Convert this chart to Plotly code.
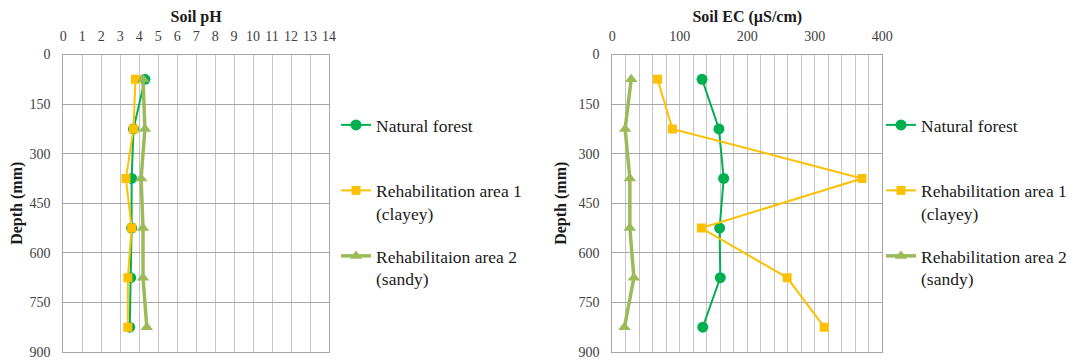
import plotly.graph_objects as go

depth = [75, 225, 375, 525, 675, 825]

ph_forest = [4.3, 3.7, 3.6, 3.6, 3.55, 3.5]
ph_rehab1 = [3.8, 3.7, 3.3, 3.6, 3.4, 3.4]
ph_rehab2 = [4.2, 4.3, 4.1, 4.2, 4.2, 4.4]

ec_forest = [133, 158, 165, 159, 160, 134]
ec_rehab1 = [67, 89, 370, 132, 259, 314]
ec_rehab2 = [28, 19, 26, 26, 32, 18]

names_left = ["Natural forest<br> ", "Rehabilitation area 1<br>(clayey)", "Rehabilitaion area 2<br>(sandy)"]
names_right = ["Natural forest<br> ", "Rehabilitation area 1<br>(clayey)", "Rehabilitation area 2<br>(sandy)"]

GREEN = "#00B050"
YELLOW = "#FFC000"
OLIVE = "#9BBB59"
FONT = "Liberation Serif, Times New Roman, serif"
HGRID = "#A6A6A6"
VGRID = "#C4C4C4"
OFF = 8  # page body margin in the browser

styles = [
    dict(color=GREEN, width=2, symbol="circle", size=11),
    dict(color=YELLOW, width=2, symbol="square", size=9),
    dict(color=OLIVE, width=3.5, symbol="triangle-up", size=11),
]

fig = go.Figure()

def add(xvals, names, xa, ya, legend):
    for i, (vals, nm) in enumerate(zip(xvals, names)):
        s = styles[i]
        fig.add_trace(go.Scatter(
            x=vals, y=depth, name=nm, mode="lines+markers",
            line=dict(color=s["color"], width=s["width"]),
            marker=dict(color=s["color"], symbol=s["symbol"], size=s["size"]),
            xaxis=xa, yaxis=ya, legend=legend, legendgroup=legend + str(i),
        ))

add([ph_forest, ph_rehab1, ph_rehab2], names_left, "x", "y", "legend")
add([ec_forest, ec_rehab1, ec_rehab2], names_right, "x2", "y2", "legend2")

W, H = 1077 - OFF, 360 - OFF
def px_x(v):
    return (v - OFF) / W
def px_y(v):
    return 1 - (v - OFF) / H

ytop = px_y(54.5)
ybot = px_y(352)

common_x = dict(side="top", showline=True, linecolor=HGRID, linewidth=1, mirror=True,
                showgrid=True, gridcolor=VGRID, gridwidth=1, zeroline=False,
                ticks="", ticklabelstandoff=7,
                tickfont=dict(family=FONT, size=14, color="#404040"),
                title_font=dict(family=FONT, size=16, color="#1a1a1a"), automargin=False)
common_y = dict(autorange=False, range=[900, 0], tick0=0, dtick=150, showline=True,
                linecolor=HGRID, linewidth=1, mirror=True, showgrid=True, gridcolor=HGRID,
                gridwidth=1.3, zeroline=False, ticks="", ticklabelstandoff=9,
                tickfont=dict(family=FONT, size=14, color="#404040"),
                title_font=dict(family=FONT, size=16, color="#1a1a1a"), automargin=False)

fig.update_layout(
    width=W, height=H,
    margin=dict(l=0, r=0, t=0, b=0),
    paper_bgcolor="white", plot_bgcolor="white",
    template="none",
    xaxis=dict(common_x, domain=[px_x(63.3), px_x(329)], range=[0, 14], dtick=1,
               anchor="y", title=dict(text="<b>Soil pH</b>", standoff=7)),
    yaxis=dict(common_y, domain=[ybot, ytop], anchor="x",
               title=dict(text="<b>Depth (mm)</b>", standoff=7)),
    xaxis2=dict(common_x, domain=[px_x(612.3), px_x(882.3)], range=[0, 400], dtick=100,
                minor=dict(dtick=20, showgrid=True, gridcolor=VGRID, gridwidth=1, ticks=""),
                anchor="y2", title=dict(text="<b>Soil EC (µS/cm)</b>", standoff=7)),
    yaxis2=dict(common_y, domain=[ybot, ytop], anchor="x2",
                title=dict(text="<b>Depth (mm)</b>", standoff=7)),
    legend=dict(x=px_x(336), y=px_y(107), xanchor="left", yanchor="top",
                font=dict(family=FONT, size=17.5, color="#1a1a1a"), valign="top",
                tracegroupgap=17, bgcolor="rgba(0,0,0,0)"),
    legend2=dict(x=px_x(881), y=px_y(107), xanchor="left", yanchor="top",
                 font=dict(family=FONT, size=17.5, color="#1a1a1a"), valign="top",
                 tracegroupgap=17, bgcolor="rgba(0,0,0,0)"),
    showlegend=True,
)

fig.write_html("out.html")
